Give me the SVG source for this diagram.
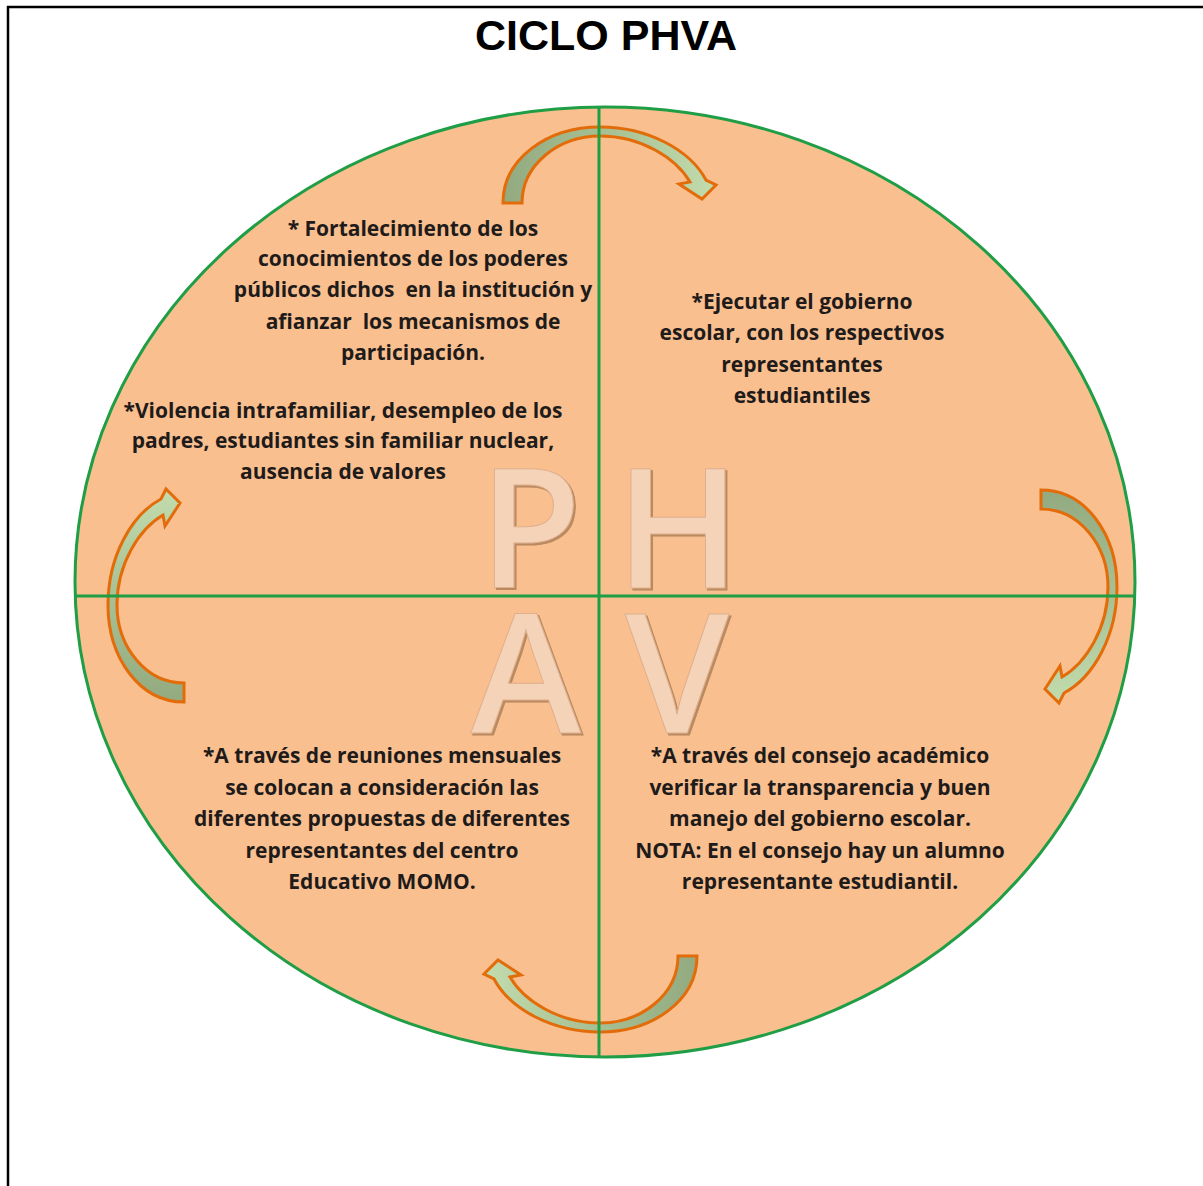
<svg xmlns="http://www.w3.org/2000/svg" width="1203" height="1186" viewBox="0 0 1203 1186">
  <defs>
    <style>
      .t { font-family: "Open Sans", Lato, "Liberation Sans", sans-serif; font-weight: 700; font-size: 21px; fill: #1e1b1a; text-anchor: middle; white-space: pre; }
      .big { font-family: "Open Sans", "Liberation Sans", sans-serif; font-weight: 600; font-size: 167px; text-anchor: middle; fill: #f5d3b8; stroke: #e0b08d; stroke-width: 1; filter: url(#emb); }
      .arrow { fill: url(#ag); stroke: #e36c0a; stroke-width: 3; stroke-linejoin: miter; }
      .axis { stroke: #1f9e45; stroke-width: 3; fill: none; }
    </style>
    <filter id="emb" x="-10%" y="-10%" width="120%" height="120%">
      <feOffset in="SourceAlpha" dx="1.5" dy="1.5" result="o"/>
      <feFlood flood-color="#b9895f"/>
      <feComposite in2="o" operator="in" result="s"/>
      <feMerge>
        <feMergeNode in="s"/>
        <feMergeNode in="SourceGraphic"/>
      </feMerge>
    </filter>
    <linearGradient id="ag" x1="0" y1="0" x2="1" y2="0">
      <stop offset="0" stop-color="#93aa80"/>
      <stop offset="0.5" stop-color="#a8c194"/>
      <stop offset="1" stop-color="#c3dcae"/>
    </linearGradient>
    <path id="arr" d="M503,203 C503,158 548,127 600,127 C648,127 690,150 706,180 L716,185 L702,199 L679,184 L690,182 C676,158 641,136 600,136 C558,136 522,165 522,203 Z"/>
  </defs>

  <g id="frame">
    <line x1="7" y1="7" x2="1203" y2="7" stroke="#000" stroke-width="2.5"/>
    <line x1="8" y1="6" x2="8" y2="1186" stroke="#000" stroke-width="2.5"/>
  </g>

  <g id="title">
    <text x="606" y="50" font-family="'Liberation Sans', Arial, sans-serif" font-weight="700" font-size="43" text-anchor="middle" fill="#000">CICLO PHVA</text>
  </g>

  <g id="circle">
    <ellipse cx="605" cy="582" rx="530" ry="475" fill="#f9bf8f" stroke="#1f9e45" stroke-width="3"/>
  </g>

  <g id="letters">
    <text class="big" x="530" y="588">P</text>
    <text class="big" x="678" y="588">H</text>
    <text class="big" x="526" y="733">A</text>
    <text class="big" x="677" y="733">V</text>
  </g>

  <g id="connectors">
    <use href="#arr" class="arrow"/>
    <use href="#arr" class="arrow" transform="translate(1079,587) rotate(90) translate(-600,-165)"/>
    <use href="#arr" class="arrow" transform="translate(600,994) rotate(180) translate(-600,-165)"/>
    <use href="#arr" class="arrow" transform="translate(146,605) rotate(270) translate(-600,-165)"/>
  </g>

  <g id="axes">
    <line class="axis" x1="599" y1="107" x2="599" y2="1057"/>
    <line class="axis" x1="75" y1="596" x2="1135" y2="596"/>
  </g>

  <g id="plan">
    <text class="t" x="413" y="236">* Fortalecimiento de los</text>
    <text class="t" x="413" y="266">conocimientos de los poderes</text>
    <text class="t" x="413" y="297">públicos dichos  en la institución y</text>
    <text class="t" x="413" y="329">afianzar  los mecanismos de</text>
    <text class="t" x="413" y="360">participación.</text>
  </g>
  <g id="problem">
    <text class="t" x="343" y="418">*Violencia intrafamiliar, desempleo de los</text>
    <text class="t" x="343" y="448">padres, estudiantes sin familiar nuclear,</text>
    <text class="t" x="343" y="479">ausencia de valores</text>
  </g>
  <g id="hacer">
    <text class="t" x="802" y="309">*Ejecutar el gobierno</text>
    <text class="t" x="802" y="340">escolar, con los respectivos</text>
    <text class="t" x="802" y="372">representantes</text>
    <text class="t" x="802" y="403">estudiantiles</text>
  </g>
  <g id="actuar">
    <text class="t" x="382" y="763">*A través de reuniones mensuales</text>
    <text class="t" x="382" y="795">se colocan a consideración las</text>
    <text class="t" x="382" y="826">diferentes propuestas de diferentes</text>
    <text class="t" x="382" y="858">representantes del centro</text>
    <text class="t" x="382" y="889">Educativo MOMO.</text>
  </g>
  <g id="verificar">
    <text class="t" x="820" y="763">*A través del consejo académico</text>
    <text class="t" x="820" y="795">verificar la transparencia y buen</text>
    <text class="t" x="820" y="826">manejo del gobierno escolar.</text>
    <text class="t" x="820" y="858">NOTA: En el consejo hay un alumno</text>
    <text class="t" x="820" y="889">representante estudiantil.</text>
  </g>
</svg>
